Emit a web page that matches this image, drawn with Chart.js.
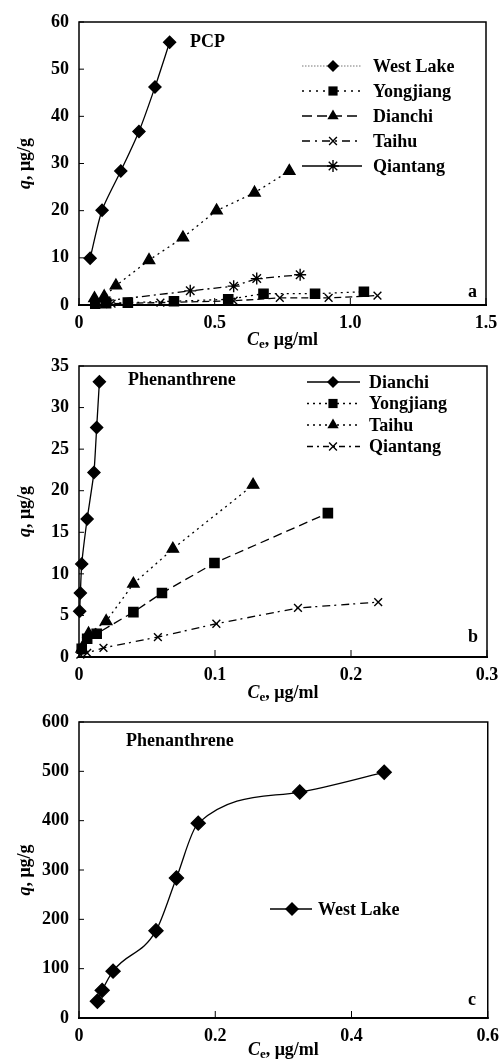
<!DOCTYPE html>
<html><head><meta charset="utf-8">
<script src="https://cdn.jsdelivr.net/npm/chart.js@4.4.0/dist/chart.umd.min.js"></script>
<style>
html,body{margin:0;padding:0;background:#fff;}
#wrap{position:relative;width:499px;height:1063px;overflow:hidden;background:#fff;}
canvas{position:absolute;left:0;}
</style></head><body>
<div id="wrap">
<canvas id="ca" width="499" height="350" style="top:0px"></canvas>
<canvas id="cb" width="499" height="355" style="top:350px"></canvas>
<canvas id="cc" width="499" height="358" style="top:705px"></canvas>
</div>
<script>
// ---------- DATA ----------
// Panel a: PCP
const seriesA = ['West Lake', 'Yongjiang', 'Dianchi', 'Taihu', 'Qiantang'];
const aWestLakeX = [0.041, 0.085, 0.154, 0.221, 0.280, 0.334];
const aWestLakeY = [9.9, 20.1, 28.4, 36.8, 46.2, 55.7];
const aYongjiangX = [0.06, 0.10, 0.18, 0.35, 0.55, 0.68, 0.87, 1.05];
const aYongjiangY = [0.3, 0.4, 0.5, 0.8, 1.2, 2.4, 2.4, 2.8];
const aDianchiX = [0.057, 0.093, 0.136, 0.258, 0.383, 0.507, 0.647, 0.775];
const aDianchiY = [1.4, 1.8, 4.1, 9.5, 14.3, 20.0, 23.8, 28.4];
const aTaihuX = [0.09, 0.12, 0.30, 0.57, 0.74, 0.92, 1.10];
const aTaihuY = [0.2, 0.3, 0.5, 0.9, 1.5, 1.5, 2.0];
const aQiantangX = [0.10, 0.41, 0.57, 0.655, 0.815];
const aQiantangY = [0.9, 3.0, 4.0, 5.6, 6.4];
const aXTicks = [0, 0.5, 1.0, 1.5];
const aXTickLabels = ['0', '0.5', '1.0', '1.5'];
const aYTicks = [0, 10, 20, 30, 40, 50, 60];
const aYTickLabels = ['0', '10', '20', '30', '40', '50', '60'];

// Panel b: Phenanthrene
const seriesB = ['Dianchi', 'Yongjiang', 'Taihu', 'Qiantang'];
const bDianchiX = [0.0005, 0.001, 0.002, 0.006, 0.011, 0.013, 0.015];
const bDianchiY = [5.5, 7.7, 11.2, 16.6, 22.2, 27.6, 33.1];
const bYongjiangX = [0.002, 0.006, 0.013, 0.040, 0.061, 0.0996, 0.183];
const bYongjiangY = [1.0, 2.2, 2.8, 5.4, 7.7, 11.3, 17.3];
const bTaihuX = [0.002, 0.007, 0.020, 0.040, 0.069, 0.128];
const bTaihuY = [1.0, 2.8, 4.3, 8.8, 13.0, 20.7];
const bQiantangX = [0.001, 0.006, 0.018, 0.058, 0.101, 0.161, 0.220];
const bQiantangY = [0.3, 0.5, 1.1, 2.4, 4.0, 5.9, 6.6];
const bXTicks = [0, 0.1, 0.2, 0.3];
const bXTickLabels = ['0', '0.1', '0.2', '0.3'];
const bYTicks = [0, 5, 10, 15, 20, 25, 30, 35];
const bYTickLabels = ['0', '5', '10', '15', '20', '25', '30', '35'];

// Panel c: Phenanthrene, West Lake
const seriesC = ['West Lake'];
const cWestLakeX = [0.027, 0.034, 0.050, 0.113, 0.143, 0.175, 0.324, 0.448];
const cWestLakeY = [34, 56, 95, 177, 284, 395, 458, 498];
const cXTicks = [0, 0.2, 0.4, 0.6];
const cXTickLabels = ['0', '0.2', '0.4', '0.6'];
const cYTicks = [0, 100, 200, 300, 400, 500, 600];
const cYTickLabels = ['0', '100', '200', '300', '400', '500', '600'];

// ---------- HELPERS ----------
const FONT = '"Liberation Serif", "DejaVu Serif", serif';
const FS = 18;
function pts(xs, ys) { return xs.map((x, i) => ({ x: x, y: ys[i] })); }

function drawMarker(ctx, style, x, y, r, lw) {
  ctx.save();
  ctx.setLineDash([]);
  ctx.fillStyle = '#000'; ctx.strokeStyle = '#000'; ctx.lineWidth = lw || 1.4;
  ctx.beginPath();
  if (style === 'rectRot') {
    ctx.moveTo(x, y - r); ctx.lineTo(x + r, y); ctx.lineTo(x, y + r); ctx.lineTo(x - r, y); ctx.closePath();
    ctx.fill();
  } else if (style === 'rect') {
    const s = r * Math.SQRT1_2; ctx.rect(x - s, y - s, 2 * s, 2 * s); ctx.fill();
  } else if (style === 'triangle') {
    let a = 0;
    ctx.moveTo(x + Math.sin(a) * r, y - Math.cos(a) * r);
    a += 2 * Math.PI / 3; ctx.lineTo(x + Math.sin(a) * r, y - Math.cos(a) * r);
    a += 2 * Math.PI / 3; ctx.lineTo(x + Math.sin(a) * r, y - Math.cos(a) * r);
    ctx.closePath(); ctx.fill();
  } else if (style === 'crossRot' || style === 'star') {
    const o = r * Math.SQRT1_2;
    ctx.moveTo(x - o, y - o); ctx.lineTo(x + o, y + o);
    ctx.moveTo(x - o, y + o); ctx.lineTo(x + o, y - o);
    if (style === 'star') { ctx.moveTo(x - r, y); ctx.lineTo(x + r, y); ctx.moveTo(x, y - r); ctx.lineTo(x, y + r); }
    ctx.stroke();
  }
  ctx.restore();
}

const decorPlugin = {
  id: 'decor',
  afterDraw(chart, args, o) {
    const ctx = chart.ctx, ca = chart.chartArea;
    const xs = chart.scales.x, ys = chart.scales.y;
    ctx.save();
    // frame
    ctx.strokeStyle = '#000'; ctx.setLineDash([]);
    ctx.lineWidth = 1.5;
    ctx.strokeRect(ca.left, ca.top, ca.right - ca.left, ca.bottom - ca.top);
    ctx.lineWidth = 2;
    ctx.beginPath(); ctx.moveTo(ca.left - 1, ca.bottom); ctx.lineTo(ca.right + 1, ca.bottom); ctx.stroke();
    // inward ticks
    ctx.lineWidth = 1;
    o.yTicks.forEach(v => { const p = ys.getPixelForValue(v); ctx.beginPath(); ctx.moveTo(ca.left, p); ctx.lineTo(ca.left + 5, p); ctx.stroke(); });
    o.xTicks.forEach(v => { const p = xs.getPixelForValue(v); ctx.beginPath(); ctx.moveTo(p, ca.bottom); ctx.lineTo(p, ca.bottom - 7); ctx.stroke(); });
    ctx.fillStyle = '#000';
    // y title
    ctx.save();
    ctx.translate(o.yTitleX, (ca.top + ca.bottom) / 2);
    ctx.rotate(-Math.PI / 2);
    ctx.textBaseline = 'middle';
    ctx.font = 'italic bold ' + FS + 'px ' + FONT;
    const q = 'q', rest = ', \u03bcg/g';
    const wq = ctx.measureText(q).width;
    ctx.font = 'bold ' + FS + 'px ' + FONT;
    const wr = ctx.measureText(rest).width;
    let sx = -(wq + wr) / 2;
    ctx.textAlign = 'left';
    ctx.font = 'italic bold ' + FS + 'px ' + FONT; ctx.fillText(q, sx, 0);
    ctx.font = 'bold ' + FS + 'px ' + FONT; ctx.fillText(rest, sx + wq, 0);
    ctx.restore();
    // x title
    ctx.textBaseline = 'alphabetic'; ctx.textAlign = 'left';
    ctx.font = 'italic bold ' + FS + 'px ' + FONT; const wc = ctx.measureText('C').width;
    ctx.font = 'bold 13px ' + FONT; const we = ctx.measureText('e').width;
    ctx.font = 'bold ' + FS + 'px ' + FONT; const wu = ctx.measureText(', \u03bcg/ml').width;
    let tx = (ca.left + ca.right) / 2 - (wc + we + wu) / 2;
    const by = o.xTitleY;
    ctx.font = 'italic bold ' + FS + 'px ' + FONT; ctx.fillText('C', tx, by);
    ctx.font = 'bold 13px ' + FONT; ctx.fillText('e', tx + wc, by + 3);
    ctx.font = 'bold ' + FS + 'px ' + FONT; ctx.fillText(', \u03bcg/ml', tx + wc + we, by);
    // annotations
    ctx.textBaseline = 'middle';
    o.notes.forEach(n => { ctx.font = 'bold ' + n.size + 'px ' + FONT; ctx.fillText(n.text, n.x, n.y); });
    // legend
    const L = o.legend;
    L.items.forEach((it, i) => {
      const y = L.y0 + i * L.dy;
      ctx.save();
      ctx.strokeStyle = it.color || '#000'; ctx.lineWidth = it.lw || 1.3; ctx.setLineDash(it.dash);
      ctx.beginPath(); ctx.moveTo(L.x1, y); ctx.lineTo(L.x2, y); ctx.stroke();
      ctx.restore();
      drawMarker(ctx, it.style, L.mx, y, it.r, 1.4);
      ctx.fillStyle = '#000'; ctx.font = 'bold ' + FS + 'px ' + FONT; ctx.textAlign = 'left'; ctx.textBaseline = 'middle';
      ctx.fillText(L.labels[i], L.tx, y + 1);
    });
    ctx.restore();
  }
};

function ds(label, data, style, r, dash, tension, mode) {
  return {
    label: label, data: data, showLine: true, borderColor: '#000', backgroundColor: '#000',
    borderWidth: 1.3, borderDash: dash, pointStyle: style, pointRadius: r, pointHoverRadius: r,
    pointBorderColor: '#000', pointBackgroundColor: '#000', pointBorderWidth: 1.4,
    tension: tension || 0, cubicInterpolationMode: mode || 'default', clip: false, fill: false
  };
}

function makeChart(id, datasets, cfg) {
  return new Chart(document.getElementById(id), {
    type: 'scatter',
    data: { datasets: datasets },
    plugins: [decorPlugin],
    options: {
      responsive: false, animation: false, devicePixelRatio: 1,
      layout: { autoPadding: false, padding: { left: 0, right: cfg.padRight, top: cfg.padTop, bottom: 0 } },
      plugins: { legend: { display: false }, tooltip: { enabled: false },
        decor: cfg.decor },
      scales: {
        x: {
          type: 'linear', min: cfg.xTicks[0], max: cfg.xTicks[cfg.xTicks.length - 1],
          afterBuildTicks: s => { s.ticks = cfg.xTicks.map(v => ({ value: v })); },
          afterFit: s => { s.height = cfg.xAxisH; },
          grid: { display: false, drawTicks: true, tickLength: 8 }, border: { display: false },
          ticks: { color: '#000', padding: 0, maxRotation: 0, autoSkip: false,
            font: { family: FONT, size: FS, weight: 'bold' },
            callback: (v, i) => cfg.xLabels[i] }
        },
        y: {
          type: 'linear', min: cfg.yTicks[0], max: cfg.yTicks[cfg.yTicks.length - 1],
          afterBuildTicks: s => { s.ticks = cfg.yTicks.map(v => ({ value: v })); },
          afterFit: s => { s.width = 79; },
          grid: { display: false, drawTicks: true, tickLength: 10 }, border: { display: false },
          ticks: { color: '#000', padding: 0, autoSkip: false,
            font: { family: FONT, size: FS, weight: 'bold' },
            callback: (v, i) => cfg.yLabels[i] }
        }
      }
    }
  });
}

// ---------- PANEL A ----------
makeChart('ca', [
  ds(seriesA[0], pts(aWestLakeX, aWestLakeY), 'rectRot', 6, [], 0.25),
  ds(seriesA[1], pts(aYongjiangX, aYongjiangY), 'rect', 6.5, [2, 4]),
  ds(seriesA[2], pts(aDianchiX, aDianchiY), 'triangle', 6.5, [2, 4]),
  ds(seriesA[3], pts(aTaihuX, aTaihuY), 'crossRot', 5.5, [7, 4]),
  ds(seriesA[4], pts(aQiantangX, aQiantangY), 'star', 6, [8, 4, 2, 4])
], {
  padRight: 13, padTop: 22, xAxisH: 45,
  xTicks: aXTicks, xLabels: aXTickLabels, yTicks: aYTicks, yLabels: aYTickLabels,
  decor: {
    xTicks: aXTicks, yTicks: aYTicks, yTitleX: 25, xTitleY: 345,
    notes: [{ text: 'PCP', x: 190, y: 42, size: FS }, { text: 'a', x: 468, y: 292, size: FS }],
    legend: {
      x1: 302, x2: 362, mx: 333, tx: 373, y0: 66, dy: 25, labels: seriesA,
      items: [
        { style: 'rectRot', r: 6, dash: [1.5, 1.5], color: '#777', lw: 1 },
        { style: 'rect', r: 6.5, dash: [2, 5] },
        { style: 'triangle', r: 6.5, dash: [10, 5] },
        { style: 'crossRot', r: 5.5, dash: [8, 5, 2, 5] },
        { style: 'star', r: 6, dash: [] }
      ]
    }
  }
});

// ---------- PANEL B ----------
makeChart('cb', [
  ds(seriesB[0], pts(bDianchiX, bDianchiY), 'rectRot', 6, [], 0.15),
  ds(seriesB[1], pts(bYongjiangX, bYongjiangY), 'rect', 6.5, [9, 5]),
  ds(seriesB[2], pts(bTaihuX, bTaihuY), 'triangle', 6.5, [2, 4]),
  ds(seriesB[3], pts(bQiantangX, bQiantangY), 'crossRot', 5.5, [8, 4, 2, 5])
], {
  padRight: 12, padTop: 16, xAxisH: 48,
  xTicks: bXTicks, xLabels: bXTickLabels, yTicks: bYTicks, yLabels: bYTickLabels,
  decor: {
    xTicks: bXTicks, yTicks: bYTicks, yTitleX: 25, xTitleY: 348,
    notes: [{ text: 'Phenanthrene', x: 128, y: 30, size: FS }, { text: 'b', x: 468, y: 287, size: FS }],
    legend: {
      x1: 307, x2: 360, mx: 333, tx: 369, y0: 32, dy: 21.5, labels: seriesB,
      items: [
        { style: 'rectRot', r: 6, dash: [] },
        { style: 'rect', r: 6.5, dash: [2, 4] },
        { style: 'triangle', r: 6.5, dash: [2, 4] },
        { style: 'crossRot', r: 5.5, dash: [6, 4, 2, 4] }
      ]
    }
  }
});

// ---------- PANEL C ----------
makeChart('cc', [
  ds(seriesC[0], pts(cWestLakeX, cWestLakeY), 'rectRot', 7, [], 0, 'monotone')
], {
  padRight: 11, padTop: 17, xAxisH: 45,
  xTicks: cXTicks, xLabels: cXTickLabels, yTicks: cYTicks, yLabels: cYTickLabels,
  decor: {
    xTicks: cXTicks, yTicks: cYTicks, yTitleX: 25, xTitleY: 350,
    notes: [{ text: 'Phenanthrene', x: 126, y: 36, size: FS }, { text: 'c', x: 468, y: 295, size: FS }],
    legend: {
      x1: 270, x2: 312, mx: 292, tx: 318, y0: 204, dy: 0, labels: seriesC,
      items: [{ style: 'rectRot', r: 7, dash: [] }]
    }
  }
});
</script>
</body></html>
